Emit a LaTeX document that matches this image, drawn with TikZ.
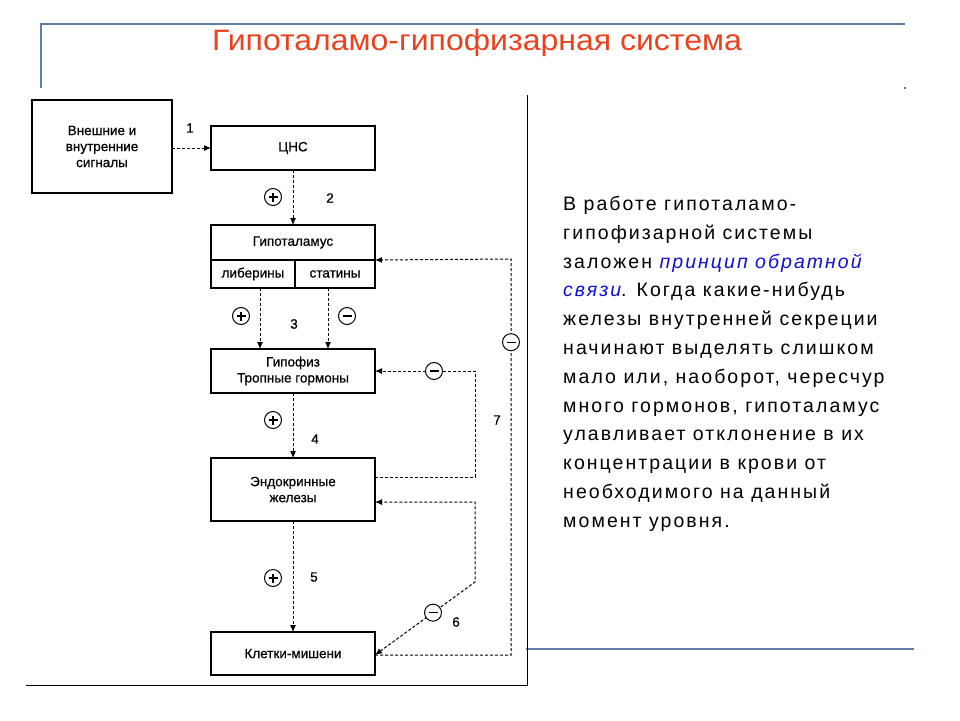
\documentclass[tikz,border=0pt]{standalone}
\usepackage{fontspec}
\setmainfont{Liberation Sans}
\usepackage{xcolor}
\usetikzlibrary{arrows.meta}

\definecolor{framecol}{HTML}{5B7FA8}
\definecolor{titlecol}{HTML}{E8431E}
\definecolor{linkcol}{HTML}{1010D0}

\newcommand{\scanfont}{\fontsize{13.5}{16}\selectfont\addfontfeatures{FakeBold=0.6}}

\tikzset{
  organ/.style={draw,line width=1.2pt,minimum width=164pt,inner sep=0pt,outer sep=0pt,
    align=center,font=\scanfont},
  cell/.style={draw,line width=1.2pt,minimum height=28pt,inner sep=0pt,outer sep=0pt,
    font=\scanfont},
  fb/.style={line width=1pt,dash pattern=on 3pt off 2pt,-{Latex[length=7pt,width=6pt]}},
  sign/.style={draw,circle,line width=1pt,solid,fill=white,minimum size=17pt,inner sep=0pt},
  minus/.style={sign,path picture={
    \draw[-,solid,line width=1.1pt] ([xshift=-4.5pt]path picture bounding box.center)
      -- ([xshift=4.5pt]path picture bounding box.center);}},
  plus/.style={sign,path picture={
    \draw[-,solid,line width=1.1pt] ([xshift=-4.5pt]path picture bounding box.center)
      -- ([xshift=4.5pt]path picture bounding box.center)
      ([yshift=-4.5pt]path picture bounding box.center)
      -- ([yshift=4.5pt]path picture bounding box.center);}},
  num/.style={font=\scanfont}
}

\begin{document}
\begin{tikzpicture}[x=1pt,y=-1pt]
\useasboundingbox (0,0) rectangle (960,720);

% slide frame
\draw[framecol,line width=2pt] (41,88) -- (41,24) -- (905,24);
\fill[framecol] (904,87) rectangle (906,89);
\draw[framecol,line width=2pt] (526,649) -- (914,649);
\node[titlecol,font=\fontsize{29.5}{32}\selectfont] (title) at (477,43)
  {\scalebox{1.085}[1]{Гипоталамо-гипофизарная система}};

% scanned picture border
\draw[line width=1pt] (527,95) -- (527,685) -- (26,685);

% boxes
\node[organ,minimum width=140pt,minimum height=93pt] (sig) at (102,146.5) {Внешние и\\внутренние\\сигналы};
\node[organ,minimum height=44pt] (cns) at (293,148) {ЦНС};
\node[organ,minimum height=35pt] (hyp) at (293,242.5) {Гипоталамус};
\node[cell,minimum width=84pt,anchor=north west] (lib) at (hyp.south west) {либерины};
\node[cell,minimum width=80pt,anchor=north east] (stat) at (hyp.south east) {статины};
\node[organ,minimum height=44pt] (pit) at (293,371) {Гипофиз\\Тропные гормоны};
\node[organ,minimum height=63pt] (endo) at (293,489.5) {Эндокринные\\железы};
\node[organ,minimum height=43pt] (tgt) at (293,653.5) {Клетки-мишени};

% direct chain
\draw[fb] (sig.east |- cns.west) -- (cns.west);
\draw[fb] (cns.south) -- (hyp.north);
\draw[fb] ([xshift=7pt]lib.south) -- ([xshift=7pt]lib.south |- pit.north);
\draw[fb] ([xshift=-7pt]stat.south) -- ([xshift=-7pt]stat.south |- pit.north);
\draw[fb] (pit.south) -- (endo.north);
\draw[fb] (endo.south) -- (tgt.north);

\node[plus] (p2) at (273,197) {};
\node[plus] (p3) at (241,316) {};
\node[minus] (m3) at (347,316) {};
\node[plus] (p4) at (273,420) {};
\node[plus] (p5) at (273,578) {};

% feedback loops
\coordinate (k7) at (475,371);
\coordinate (k6a) at (475,582);
\coordinate (k6b) at (475,502);
\coordinate (ko1) at (511,655);
\coordinate (ko2) at (511,259);
\draw[fb] ([yshift=12.5pt]endo.east) -| (k7) -- node[minus,pos=0.41] (m7) {} (pit.east);
\draw[fb,{Latex[length=7pt,width=6pt]}-{Latex[length=7pt,width=6pt]}]
  ([yshift=-1.5pt]tgt.east) -- node[minus,pos=0.58] (m6) {} (k6a) -- (k6b) -- ([yshift=-12.5pt]endo.east);
\draw[fb] ([yshift=-1.5pt]tgt.east) -- (ko1) -- node[minus,pos=0.79] (mo) {} (ko2) -- (hyp.south east);

% numbers
\node[num] (n1) at (190,128) {1};
\node[num] (n2) at (330,198) {2};
\node[num] (n3) at (294,324) {3};
\node[num] (n4) at (315,439) {4};
\node[num] (n5) at (314,577) {5};
\node[num] (n6) at (456,622) {6};
\node[num] (n7) at (497,420) {7};

% explanation
\node[anchor=north west,inner sep=0pt,align=left,
  font=\fontsize{19.5}{28.8}\selectfont\addfontfeatures{LetterSpace=10.5}] (txt) at (563,196)
  {В работе гипоталамо-\\
   гипофизарной системы\\
   заложен \textcolor{linkcol}{\itshape принцип обратной}\\
   \textcolor{linkcol}{\itshape связи}. Когда какие-нибудь\\
   железы внутренней секреции\\
   начинают выделять слишком\\
   мало или, наоборот, чересчур\\
   много гормонов, гипоталамус\\
   улавливает отклонение в их\\
   концентрации в крови от\\
   необходимого на данный\\
   момент уровня.};
\end{tikzpicture}
\end{document}
